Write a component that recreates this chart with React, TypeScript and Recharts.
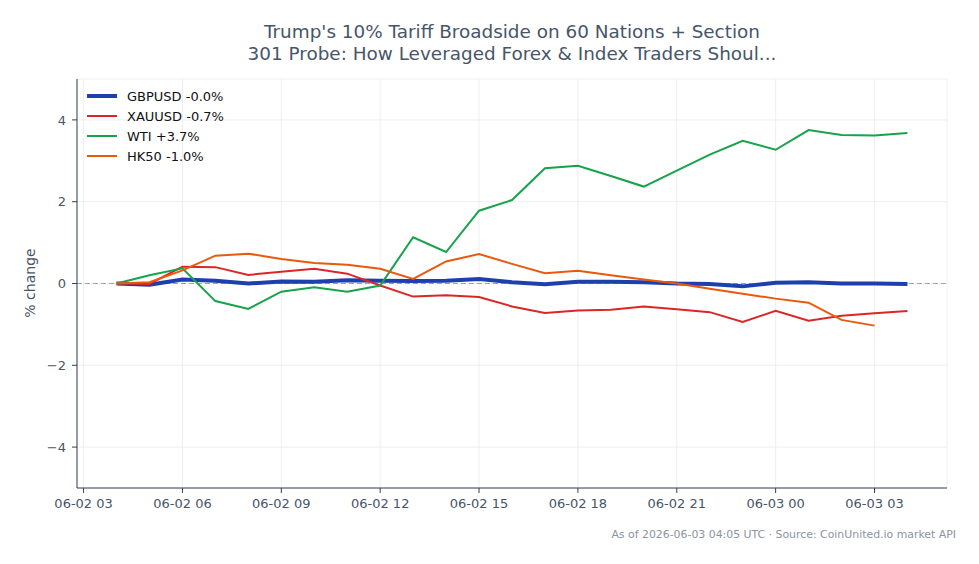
import React from 'react';
import {
  LineChart,
  Line,
  XAxis,
  YAxis,
  CartesianGrid,
  ReferenceLine,
  Legend,
} from 'recharts';

// Hours since 06-02 00:00 UTC (hourly closes)
const HOURS = [4, 5, 6, 7, 8, 9, 10, 11, 12, 13, 14, 15, 16, 17, 18, 19, 20, 21, 22, 23, 24, 25, 26, 27, 28];

// % change from the first close
const GBPUSD = [0, -0.03, 0.1, 0.07, 0.0, 0.05, 0.04, 0.08, 0.07, 0.06, 0.07, 0.11, 0.03, -0.02, 0.04, 0.04, 0.03, 0.0, -0.01, -0.07, 0.02, 0.03, 0.0, 0.0, -0.01];
const XAUUSD = [0, -0.01, 0.41, 0.4, 0.21, 0.29, 0.36, 0.24, -0.05, -0.32, -0.29, -0.33, -0.56, -0.72, -0.66, -0.64, -0.56, -0.63, -0.7, -0.94, -0.67, -0.91, -0.79, -0.73, -0.67];
const WTI = [0, 0.2, 0.37, -0.43, -0.62, -0.2, -0.09, -0.2, -0.05, 1.13, 0.77, 1.78, 2.04, 2.82, 2.88, 2.63, 2.37, 2.76, 3.15, 3.49, 3.27, 3.75, 3.63, 3.62, 3.68];
const HK50 = [0, 0.03, 0.32, 0.68, 0.73, 0.6, 0.5, 0.46, 0.36, 0.11, 0.54, 0.72, 0.48, 0.25, 0.31, 0.2, 0.1, 0.0, -0.13, -0.25, -0.37, -0.47, -0.89, -1.03, null];

const X_TICKS = [3, 6, 9, 12, 15, 18, 21, 24, 27];
const Y_TICKS = [-4, -2, 0, 2, 4];

const SERIES = [
  { key: 'GBPUSD', label: 'GBPUSD -0.0%', color: '#1e40af', width: 4 },
  { key: 'XAUUSD', label: 'XAUUSD -0.7%', color: '#dc2626', width: 2 },
  { key: 'WTI', label: 'WTI +3.7%', color: '#16a34a', width: 2 },
  { key: 'HK50', label: 'HK50 -1.0%', color: '#ea580c', width: 2 },
];

const TITLE_LINES = [
  "Trump's 10% Tariff Broadside on 60 Nations + Section",
  '301 Probe: How Leveraged Forex & Index Traders Shoul...',
];
const FOOTER = 'As of 2026-06-03 04:05 UTC · Source: CoinUnited.io market API';

const data = HOURS.map((t, i) => ({
  t,
  GBPUSD: GBPUSD[i],
  XAUUSD: XAUUSD[i],
  WTI: WTI[i],
  HK50: HK50[i],
}));

const FONT = '"DejaVu Sans", sans-serif';
const AXIS = '#334155';
const TEXT = '#475569';

const pad = (n: number) => (n < 10 ? `0${n}` : `${n}`);
const formatHour = (h: number) => {
  const day = h >= 24 ? '06-03' : '06-02';
  return `${day} ${pad(h % 24)}`;
};
const formatY = (v: number) => (v < 0 ? `\u2212${Math.abs(v)}` : `${v}`);

const LegendBox = () => (
  <div style={{ fontFamily: FONT, fontSize: 13, color: '#111' }}>
    {SERIES.map((s) => (
      <div key={s.key} style={{ display: 'flex', alignItems: 'center', height: 20 }}>
        <svg width={30} height={10} style={{ marginRight: 10 }}>
          <line x1={0} y1={5} x2={30} y2={5} stroke={s.color} strokeWidth={s.width} />
        </svg>
        <span>{s.label}</span>
      </div>
    ))}
  </div>
);

export default function App() {
  return (
    <div
      style={{
        position: 'absolute',
        left: 0,
        top: 0,
        width: 979,
        height: 564,
        background: '#fff',
        fontFamily: FONT,
      }}
    >
      <div
        style={{
          position: 'absolute',
          left: 162,
          width: 700,
          top: 21,
          textAlign: 'center',
          fontSize: 18.4,
          lineHeight: '21.5px',
          color: TEXT,
        }}
      >
        {TITLE_LINES.map((l) => (
          <div key={l}>{l}</div>
        ))}
      </div>
      <div
        style={{
          position: 'absolute',
          left: 30,
          top: 283,
          transform: 'translate(-50%, -50%) rotate(-90deg)',
          fontSize: 14,
          color: TEXT,
          whiteSpace: 'nowrap',
        }}
      >
        % change
      </div>
      <div
        style={{
          position: 'absolute',
          right: 23,
          top: 528,
          fontSize: 10.9,
          color: '#8a94a3',
          whiteSpace: 'nowrap',
        }}
      >
        {FOOTER}
      </div>
      <LineChart
        width={979}
        height={564}
        data={data}
        margin={{ top: 79, right: 32, bottom: 46, left: 0 }}
        style={{ position: 'absolute', left: 0, top: 0 }}
      >
        <CartesianGrid stroke="#e8ebef" strokeWidth={0.8} />
        <XAxis
          dataKey="t"
          type="number"
          domain={[2.8, 29.2]}
          ticks={X_TICKS}
          tickFormatter={formatHour}
          height={30}
          stroke={AXIS}
          tickSize={5}
          tick={{ fill: TEXT, fontSize: 13, fontFamily: FONT }}
          tickMargin={6}
          allowDataOverflow
        />
        <YAxis
          type="number"
          domain={[-5, 5]}
          ticks={Y_TICKS}
          tickFormatter={formatY}
          width={77}
          stroke={AXIS}
          tickSize={5}
          tick={{ fill: TEXT, fontSize: 13, fontFamily: FONT }}
          tickMargin={6}
          allowDataOverflow
        />
        <ReferenceLine y={0} stroke="#94a3b8" strokeDasharray="5 3" strokeWidth={1} />
        {SERIES.map((s) => (
          <Line
            key={s.key}
            dataKey={s.key}
            type="linear"
            stroke={s.color}
            strokeWidth={s.width}
            dot={false}
            activeDot={false}
            isAnimationActive={false}
            connectNulls={false}
          />
        ))}
        <Legend
          content={<LegendBox />}
          layout="vertical"
          verticalAlign="middle"
          align="center"
          wrapperStyle={{ left: 87, top: 86, width: 200 }}
        />
      </LineChart>
    </div>
  );
}
